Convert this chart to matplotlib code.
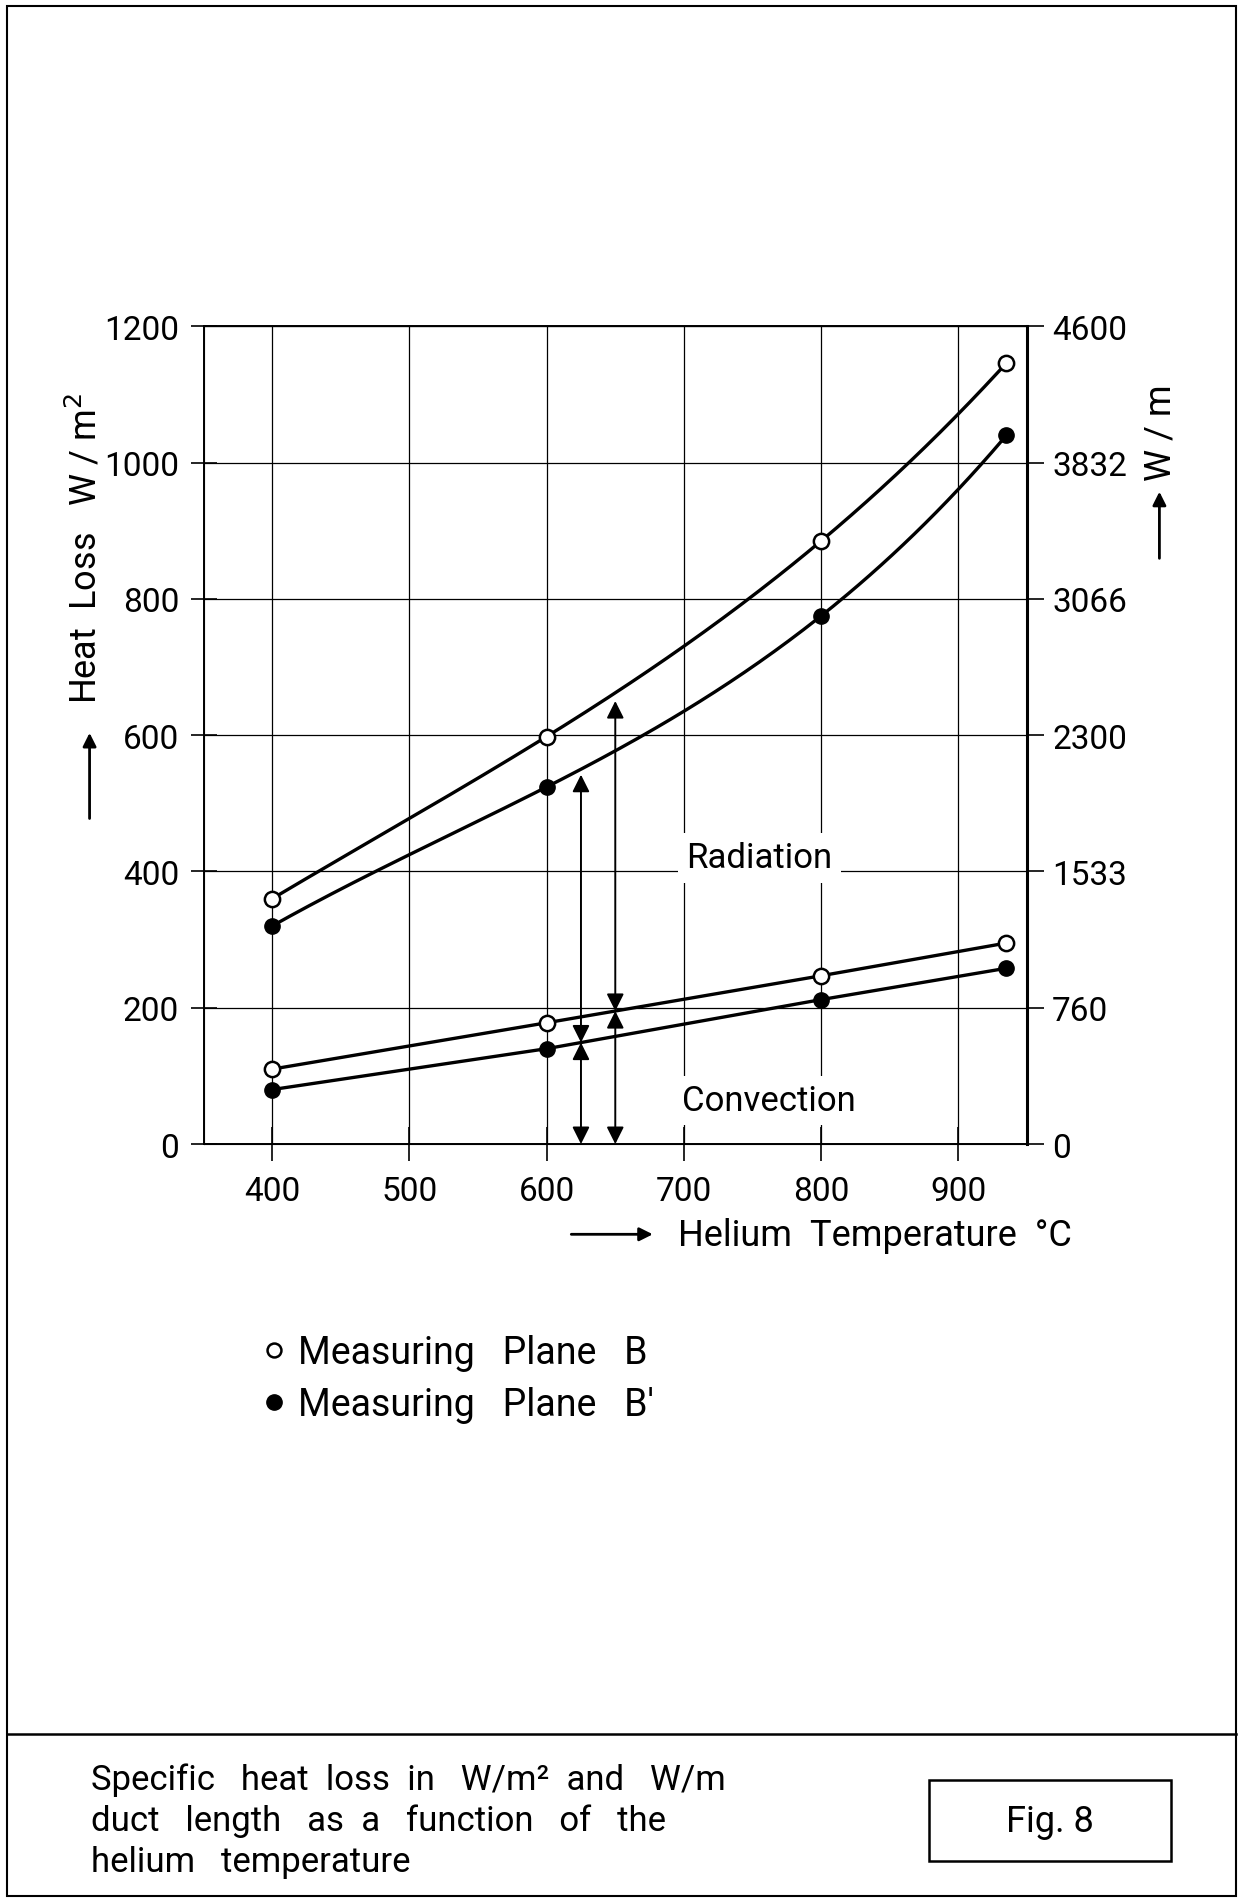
import numpy as np
import matplotlib.pyplot as plt
from matplotlib.lines import Line2D
from matplotlib.patches import Rectangle

plt.rcParams['font.family'] = ['Roboto', 'DejaVu Sans']

# helium temperature, degC
temp = [400, 600, 800, 935]
# total heat loss W/m2 (upper curves)
total_B = [360, 598, 885, 1146]
total_Bp = [320, 524, 775, 1040]
# convective part W/m2 (lower lines)
conv_B = [110, 178, 247, 295]
conv_Bp = [80, 140, 212, 258]

xticks = [400, 500, 600, 700, 800, 900]
yticks = [0, 200, 400, 600, 800, 1000, 1200]
right_labels = ['0', '760', '1533', '2300', '3066', '3832', '4600']

fig = plt.figure(figsize=(12.44, 18.99), dpi=100)
ax = fig.add_axes([0.1636, 0.397, 0.662, 0.4307])

lw = 2.4
ms = 11

# smooth curves through the total-loss points
xs = np.linspace(temp[0], temp[-1], 200)
pB = np.polyfit(temp, total_B, 3)
pBp = np.polyfit(temp, total_Bp, 3)
ax.plot(xs, np.polyval(pB, xs), color='k', lw=lw, zorder=3)
ax.plot(xs, np.polyval(pBp, xs), color='k', lw=lw, zorder=3)
ax.plot(temp, total_B, 'o', color='k', mfc='white', mew=1.8, ms=ms, zorder=4)
ax.plot(temp, total_Bp, 'o', color='k', ms=ms, zorder=4)

ax.plot(temp, conv_B, '-o', color='k', lw=lw, mfc='white', mew=1.8, ms=ms, zorder=4)
ax.plot(temp, conv_Bp, '-o', color='k', lw=lw, ms=ms, zorder=4)

# split arrows radiation / convection
aprops = dict(arrowstyle='<|-|>', color='k', lw=1.4, mutation_scale=26,
              shrinkA=0, shrinkB=0)
x1, x2 = 625, 650
c1 = np.interp(x1, temp, conv_Bp)
c2 = np.interp(x2, temp, conv_B)
t1 = np.polyval(pBp, x1) - 8
t2 = np.polyval(pB, x2) - 12
for xa, c, t in [(x1, c1, t1), (x2, c2, t2)]:
    ax.annotate('', xy=(xa, t), xytext=(xa, c), arrowprops=aprops, zorder=5)
    ax.annotate('', xy=(xa, c), xytext=(xa, 0), arrowprops=aprops, zorder=5)

ax.text(755, 420, 'Radiation', fontsize=25, ha='center', va='center',
        bbox=dict(fc='white', ec='none', pad=6), zorder=2)
ax.text(762, 64, 'Convection', fontsize=25, ha='center', va='center',
        bbox=dict(fc='white', ec='none', pad=6), zorder=2)

ax.set_xlim(350, 950)
ax.set_ylim(0, 1200)
ax.set_xticks(xticks)
ax.set_yticks(yticks)
ax.grid(True, color='k', lw=0.9)
ax.set_axisbelow(True)
for s in ax.spines.values():
    s.set_linewidth(1.4)
ax.tick_params(axis='y', direction='inout', length=19, width=1.2, pad=8, labelsize=24)
ax.tick_params(axis='x', direction='inout', length=24, width=1.2, pad=10, labelsize=24)

ax2 = ax.twinx()
ax2.set_ylim(0, 1200)
ax2.set_yticks(yticks)
ax2.set_yticklabels(right_labels)
ax2.tick_params(axis='y', direction='out', length=12, width=1.2, pad=6, labelsize=24)
ax2.spines['right'].set_linewidth(2.2)

# axis labels with arrows
fig.text(0.069, 0.711, 'Heat  Loss   W / m$^2$', rotation=90, fontsize=26,
         ha='center', va='center')
fig.add_artist(plt.Annotation('', xy=(0.072, 0.615), xytext=(0.072, 0.567),
                              xycoords='figure fraction',
                              arrowprops=dict(arrowstyle='-|>', color='k', lw=2,
                                              mutation_scale=20)))
fig.text(0.933, 0.772, 'W / m', rotation=90, fontsize=26, ha='center', va='center')
fig.add_artist(plt.Annotation('', xy=(0.932, 0.742), xytext=(0.932, 0.704),
                              xycoords='figure fraction',
                              arrowprops=dict(arrowstyle='-|>', color='k', lw=2,
                                              mutation_scale=20)))
fig.text(0.545, 0.349, 'Helium  Temperature  °C', fontsize=26,
         ha='left', va='center')
fig.add_artist(plt.Annotation('', xy=(0.527, 0.3495), xytext=(0.457, 0.3495),
                              xycoords='figure fraction',
                              arrowprops=dict(arrowstyle='-|>', color='k', lw=2,
                                              mutation_scale=20)))

# legend
handles = [Line2D([], [], ls='none', marker='o', color='k', mfc='white', mew=1.8, ms=10),
           Line2D([], [], ls='none', marker='o', color='k', ms=11)]
fig.legend(handles, ['Measuring   Plane   B', "Measuring   Plane   B′"],
           loc='upper left', bbox_to_anchor=(0.19, 0.307), frameon=False,
           fontsize=27, handletextpad=0.15, handlelength=1.0, labelspacing=0.4,
           borderpad=0)

# drawing frame and caption block
fig.add_artist(Rectangle((0.0056, 0.001), 0.988, 0.9955, transform=fig.transFigure,
                         fill=False, ec='k', lw=1.5))
fig.add_artist(Line2D([0.0056, 0.9936], [0.0864, 0.0864], transform=fig.transFigure,
                      color='k', lw=1.8))
caption = ['Specific   heat  loss  in   W/m²  and   W/m',
           'duct   length   as  a   function   of   the',
           'helium   temperature']
for i, line in enumerate(caption):
    fig.text(0.073, 0.0627 - i * 0.0218, line, fontsize=25, ha='left', va='center')
fig.add_artist(Rectangle((0.7468, 0.0195), 0.1945, 0.0426, transform=fig.transFigure,
                         fill=False, ec='k', lw=1.8))
fig.text(0.844, 0.0408, 'Fig. 8', fontsize=26, ha='center', va='center')

fig.savefig('out.png', dpi=100)
